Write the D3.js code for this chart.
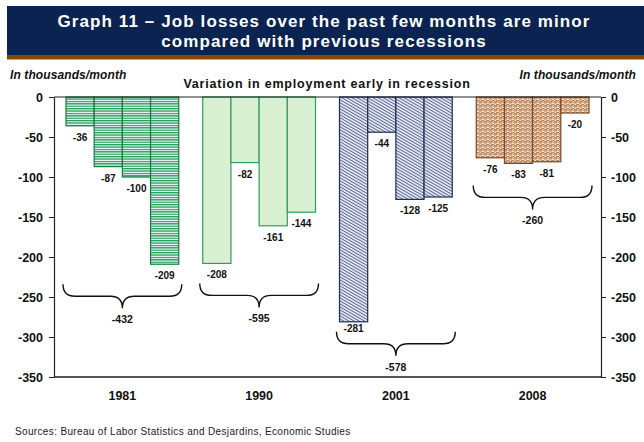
<!DOCTYPE html>
<html>
<head>
<meta charset="utf-8">
<script src="https://cdn.jsdelivr.net/npm/d3@7"></script>
<style>
  html, body { margin: 0; padding: 0; background: #fff; }
  svg { display: block; font-family: "Liberation Sans", Arial, sans-serif; }
</style>
</head>
<body>
<svg id="chart" width="644" height="442"></svg>
<script>
// ---- data ----
const categories = ["1981", "1990", "2001", "2008"];
const month1 = [-36, -208, -281, -76];
const month2 = [-87, -82, -44, -83];
const month3 = [-100, -161, -128, -81];
const month4 = [-209, -144, -125, -20];
const totals = [-432, -595, -578, -260];
const yTicks = [0, -50, -100, -150, -200, -250, -300, -350];
const months = ["m1", "m2", "m3", "m4"];
const titleLines = ["Graph 11 \u2013 Job losses over the past few months are minor",
                    "compared with previous recessions"];
const unitLabel = "In thousands/month";
const subTitle = "Variation in employment early in recession";
const source = "Sources: Bureau of Labor Statistics and Desjardins, Economic Studies";

const table = categories.map((c, i) => ({
  cat: c, idx: i,
  vals: [month1[i], month2[i], month3[i], month4[i]],
  total: totals[i]
}));

// ---- layout ----
const svg = d3.select("#chart");
const L = 54, R = 601, T = 97, B = 377;

const x0 = d3.scaleBand().domain(categories).range([L, R]).padding(0);
const x1 = d3.scaleBand().domain(months).range([12, x0.bandwidth() - 12]).padding(0);
const y = d3.scaleLinear().domain([0, -350]).range([T, B]);

// ---- patterns ----
const defs = svg.append("defs");
const p1 = defs.append("pattern").attr("id", "pat1981").attr("patternUnits", "userSpaceOnUse")
  .attr("width", 6).attr("height", 2.4);
p1.append("rect").attr("width", 6).attr("height", 2.4).attr("fill", "#ffffff");
p1.append("rect").attr("y", 0).attr("width", 6).attr("height", 1.3).attr("fill", "#1f9a5c");

const p3 = defs.append("pattern").attr("id", "pat2001").attr("patternUnits", "userSpaceOnUse")
  .attr("width", 2.6).attr("height", 3).attr("patternTransform", "rotate(-60)");
p3.append("rect").attr("width", 2.6).attr("height", 3).attr("fill", "#e4e7f0");
p3.append("rect").attr("width", 0.9).attr("height", 3).attr("fill", "#56648e");

const p4 = defs.append("pattern").attr("id", "pat2008").attr("patternUnits", "userSpaceOnUse")
  .attr("width", 5).attr("height", 4);
p4.append("rect").attr("width", 5).attr("height", 4).attr("fill", "#f6e8da");
p4.append("path").attr("d", "M0,1 Q1.25,3.5 2.5,1 Q3.75,-1.5 5,1").attr("fill", "none")
  .attr("stroke", "#9c5a2a").attr("stroke-width", 1.1);
p4.append("path").attr("d", "M0,3 Q1.25,5.5 2.5,3 Q3.75,0.5 5,3").attr("fill", "none")
  .attr("stroke", "#b87a48").attr("stroke-width", 0.8);

const fills = ["url(#pat1981)", "#d9f1d2", "url(#pat2001)", "url(#pat2008)"];
const strokes = ["#137a40", "#2b9f5e", "#1d2c5a", "#7a4826"];

// ---- title banner ----
svg.append("rect").attr("x", 7).attr("y", 6).attr("width", 637).attr("height", 49).attr("fill", "#0b2350");
svg.append("rect").attr("x", 7).attr("y", 55).attr("width", 637).attr("height", 4.5).attr("fill", "#8a4509");
svg.append("g").selectAll("text").data(titleLines).join("text")
  .attr("x", 324).attr("y", (d, i) => 27 + i * 20)
  .attr("text-anchor", "middle").attr("fill", "#fff")
  .attr("font-size", 17).attr("font-weight", "bold").attr("letter-spacing", 1.1)
  .text(d => d);

// ---- unit labels ----
svg.append("text").attr("x", 10).attr("y", 79).attr("font-size", 12).attr("font-weight", "bold")
  .attr("font-style", "italic").attr("fill", "#111").attr("letter-spacing", 0.1).text(unitLabel);
svg.append("text").attr("x", 636).attr("y", 79).attr("text-anchor", "end").attr("font-size", 12)
  .attr("font-weight", "bold").attr("font-style", "italic").attr("fill", "#111").attr("letter-spacing", 0.1).text(unitLabel);
svg.append("text").attr("x", 327).attr("y", 88).attr("text-anchor", "middle").attr("font-size", 12.5)
  .attr("font-weight", "bold").attr("fill", "#111").attr("letter-spacing", 0.8).text(subTitle);

// ---- bars ----
const groups = svg.append("g").selectAll("g").data(table).join("g")
  .attr("transform", d => `translate(${x0(d.cat)},0)`);

groups.selectAll("rect").data(d => d.vals.map((v, j) => ({ v, j, i: d.idx }))).join("rect")
  .attr("x", d => x1(months[d.j]))
  .attr("y", y(0))
  .attr("width", x1.bandwidth())
  .attr("height", d => y(d.v) - y(0))
  .attr("fill", d => fills[d.i])
  .attr("stroke", d => strokes[d.i])
  .attr("stroke-width", 1.2);

groups.selectAll("text.val").data(d => d.vals.map((v, j) => ({ v, j, i: d.idx }))).join("text")
  .attr("class", "val")
  .attr("x", d => x1(months[d.j]) + x1.bandwidth() / 2)
  .attr("y", d => y(d.v) + (d.v === d3.min(table[d.i].vals) && d.i === 2 ? 10 : 15))
  .attr("text-anchor", "middle").attr("font-size", 10).attr("font-weight", "bold").attr("fill", "#111")
  .text(d => d.v);

// ---- braces ----
const braceGap = [20, 20, 10, 22];
function bracePath(xa, xb, y0) {
  const xc = (xa + xb) / 2, r = 12, yh = y0 + 12, yt = yh + 12;
  return `M${xa},${y0} Q${xa},${yh} ${xa + r},${yh} L${xc - r},${yh} Q${xc},${yh} ${xc},${yt}` +
         ` Q${xc},${yh} ${xc + r},${yh} L${xb - r},${yh} Q${xb},${yh} ${xb},${y0}`;
}
groups.each(function (d) {
  const g = d3.select(this);
  const xa = x1.range()[0] - 3, xb = x1.range()[1] + 3;
  const y0 = y(d3.min(d.vals)) + braceGap[d.idx];
  g.append("path").attr("d", bracePath(xa, xb, y0)).attr("fill", "none")
    .attr("stroke", "#111").attr("stroke-width", 1.4);
  g.append("text").attr("x", (xa + xb) / 2).attr("y", y0 + 24 + 15)
    .attr("text-anchor", "middle").attr("font-size", 10.5).attr("font-weight", "bold").attr("fill", "#111")
    .text(d.total);
});

// ---- axes ----
svg.append("line").attr("x1", L).attr("x2", R).attr("y1", y(0)).attr("y2", y(0)).attr("stroke", "#222").attr("stroke-width", 1);
svg.append("line").attr("x1", L).attr("x2", R).attr("y1", y(-350)).attr("y2", y(-350)).attr("stroke", "#555").attr("stroke-width", 2);

const fmt = d => String(d);
const axL = svg.append("g").attr("transform", `translate(${L},0)`)
  .call(d3.axisLeft(y).tickValues(yTicks).tickFormat(fmt).tickSize(5).tickPadding(6).tickSizeOuter(0));
const axR = svg.append("g").attr("transform", `translate(${R},0)`)
  .call(d3.axisRight(y).tickValues(yTicks).tickFormat(fmt).tickSize(5).tickPadding(5).tickSizeOuter(0));
[axL, axR].forEach(a => {
  a.select(".domain").attr("stroke", "#222").attr("stroke-width", 1.2);
  a.selectAll(".tick line").attr("stroke", "#222");
  a.selectAll(".tick text").attr("font-size", 12.5).attr("font-weight", "bold").attr("fill", "#111")
    .attr("font-family", "Liberation Sans, Arial, sans-serif");
});

const axB = svg.append("g").attr("transform", `translate(0,${B})`)
  .call(d3.axisBottom(x0).tickSize(0).tickPadding(14));
axB.select(".domain").remove();
axB.selectAll(".tick text").attr("font-size", 12.5).attr("font-weight", "bold").attr("fill", "#111")
  .attr("font-family", "Liberation Sans, Arial, sans-serif");

// ---- source ----
svg.append("text").attr("x", 15).attr("y", 435).attr("font-size", 10).attr("letter-spacing", 0.35)
  .attr("fill", "#222").text(source);
</script>
</body>
</html>
